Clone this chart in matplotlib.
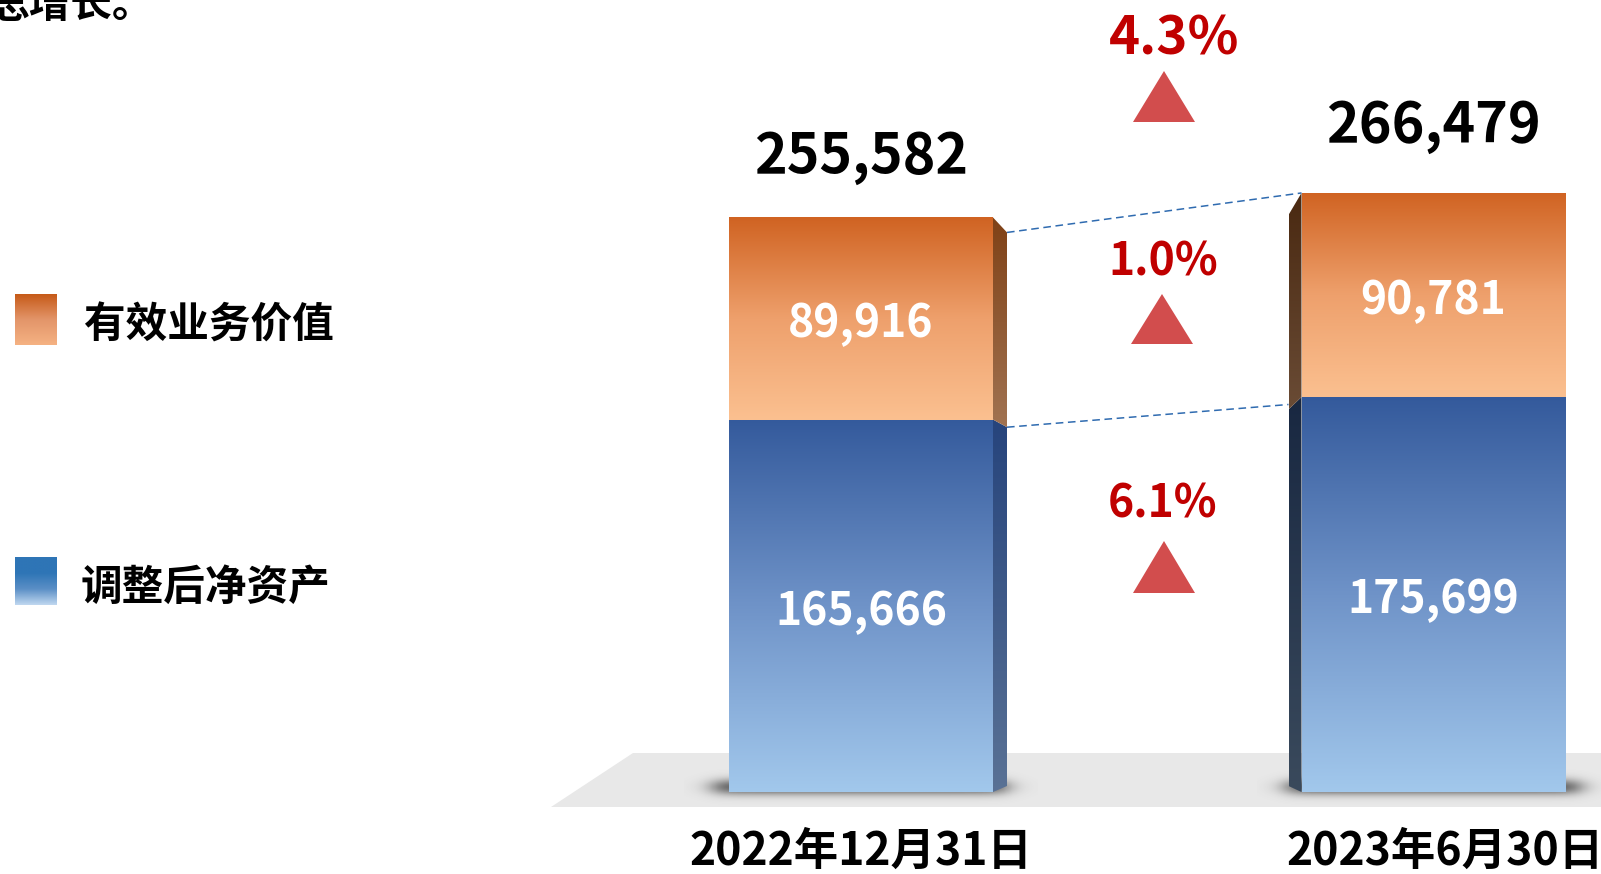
import numpy as np
import matplotlib.pyplot as plt
from matplotlib.patches import Polygon
from matplotlib.colors import LinearSegmentedColormap

plt.rcParams['font.family'] = ['Noto Sans CJK SC', 'DejaVu Sans']

# ---- data ----
dates = ['2022年12月31日', '2023年6月30日']
net_assets = [165666, 175699]       # 调整后净资产
inforce_value = [89916, 90781]      # 有效业务价值
totals = [255582, 266479]
series_names = ['有效业务价值', '调整后净资产']
growth_total = '4.3%'
growth_inforce = '1.0%'
growth_net = '6.1%'
top_text = '总增长。'

W, H = 1601, 874
fig = plt.figure(figsize=(W / 100, H / 100), dpi=100)

# pixel axes for the decoration (floor, legend, arrows)
axp = fig.add_axes([0, 0, 1, 1])
axp.axis('off')

# data axes for the bars
axd = fig.add_axes([0, 0, 1, 1])
axd.axis('off')
x_px, y_px = 572.5, 0.002248   # pixels per data unit
x_c0, y_base = 861, 792         # pixel spot of bar 0 centre / zero line
t_dy = 6                        # CJK font sits high with va=center


def py(v):
    # pixel height -> data units
    return v / y_px


def vgrad(ax, clip, extent, colors, z):
    cmap = LinearSegmentedColormap.from_list('g', colors)
    g = np.linspace(0, 1, 256).reshape(-1, 1)
    im = ax.imshow(g, cmap=cmap, extent=extent, origin='lower',
                   aspect='auto', zorder=z, interpolation='bilinear')
    im.set_clip_path(clip)
    return im


# floor
floor = Polygon([(633, 753), (W, 753), (W, 807), (551, 807)],
                closed=True, fc='#e8e8e8', ec='none', zorder=0)
axp.add_patch(floor)

x = np.arange(len(dates))
bw = 264 / x_px
b_net = axd.bar(x, net_assets, bw, color='none', zorder=3)
b_inf = axd.bar(x, inforce_value, bw, bottom=net_assets, color='none', zorder=3)

# shadows under the bars
for p in b_net.patches:
    x0, w = p.get_x(), p.get_width()
    ext = [x0 - 45 / x_px, x0 + w + 45 / x_px, py(-14), py(34)]
    nx, ny = 300, 60
    xs = np.linspace(ext[0], ext[1], nx)
    ys = np.linspace(ext[2], ext[3], ny)
    fx = 1 / (1 + np.exp(-(xs - (x0 - 16 / x_px)) / (7 / x_px))) * \
        1 / (1 + np.exp((xs - (x0 + w + 14 / x_px)) / (7 / x_px)))
    fy = np.exp(-((ys - py(5)) / py(8)) ** 2)
    a = np.outer(fy, fx) * 0.85
    rgba = np.zeros((ny, nx, 4))
    rgba[..., :3] = 0.28
    rgba[..., 3] = a
    axd.imshow(rgba, extent=ext, origin='lower', aspect='auto', zorder=2)

# front faces with gradients
orange = ['#fbc090', '#eea06c', '#d06322']
blue = ['#a2c8ec', '#6f93c8', '#345a9c']
for p in b_net.patches:
    vgrad(axd, p, [p.get_x(), p.get_x() + p.get_width(), p.get_y(),
                   p.get_y() + p.get_height()], blue, 3)
for p in b_inf.patches:
    vgrad(axd, p, [p.get_x(), p.get_x() + p.get_width(), p.get_y(),
                   p.get_y() + p.get_height()], orange, 3)

# side faces (bar 0 right, bar 1 left)
side_cfg = [(+1, 14, 6, -15), (-1, 13, 6, -22)]
side_cols = [
    (['#5d7597', '#22407a'], ['#a67a5a', '#7a3a0e']),
    (['#3c4c5e', '#16253f'], ['#6e503a', '#45240c']),
]
corner = []
for i in range(len(dates)):
    sgn, dxp, off_b, off_t = side_cfg[i]
    p = b_net.patches[i]
    xe = p.get_x() + (p.get_width() if sgn > 0 else 0)
    xo = xe + sgn * dxp / x_px
    tot = totals[i]

    def off(y, off_b=off_b, off_t=off_t, tot=tot):
        return py(off_b + (off_t - off_b) * y / tot)

    segs = [(0, net_assets[i]), (net_assets[i], tot)]
    for (ya, yb), cols in zip(segs, side_cols[i]):
        poly = Polygon([(xe, ya), (xe, yb), (xo, yb + off(yb)), (xo, ya + off(ya))],
                       closed=True, fc='none', ec='none')
        axd.add_patch(poly)
        vgrad(axd, poly, [min(xe, xo), max(xe, xo), ya + off(ya) - py(30),
                          yb + py(30)], cols, 3)
    corner.append((xe, xo, off))

# dashed connectors
xe0, xo0, off0 = corner[0]
xe1, xo1, off1 = corner[1]
axd.plot([xo0, xe1], [totals[0] + off0(totals[0]), totals[1]],
         ls=(0, (5, 3)), color='#2f6bb0', lw=1.1, zorder=4)
axd.plot([xo0, xo1], [net_assets[0] + off0(net_assets[0]),
                      net_assets[1] + off1(net_assets[1]) + py(5)],
         ls=(0, (5, 3)), color='#2f6bb0', lw=1.1, zorder=4)

# value labels
tot_gap = [66, 73]
date_dx = [0, 12]
for i in range(len(dates)):
    axd.text(x[i], totals[i] + py(tot_gap[i] - t_dy), f'{totals[i]:,}', ha='center',
             va='center', fontsize=40, weight='bold', color='black', zorder=5)
    axd.text(x[i], net_assets[i] + inforce_value[i] / 2 - py(t_dy), f'{inforce_value[i]:,}',
             ha='center', va='center', fontsize=32, weight='bold', color='white', zorder=5)
    axd.text(x[i], net_assets[i] / 2 - py(t_dy), f'{net_assets[i]:,}',
             ha='center', va='center', fontsize=32, weight='bold', color='white', zorder=5)
    axd.text(x[i] + date_dx[i] / x_px, py(y_base - 850 - t_dy + 4), dates[i],
             ha='center', va='center', fontsize=32, weight='bold', color='black', zorder=5)

axd.set_xlim(-x_c0 / x_px, (W - x_c0) / x_px)
axd.set_ylim(py(y_base - H), py(y_base))

# growth markers
red_t = '#c00000'
red_tri = '#d24d4d'
for txt, tx, ty, fs, (tl, tr, tt, tb) in [
        (growth_total, 1174, 33, 38, (1133, 1195, 71, 122)),
        (growth_inforce, 1163, 257, 32, (1131, 1193, 294, 344)),
        (growth_net, 1163, 499, 32, (1133, 1195, 541, 593))]:
    axp.text(tx, ty + t_dy, txt, ha='center', va='center', fontsize=fs,
             weight='bold', color=red_t)
    axp.add_patch(Polygon([(tl, tb), ((tl + tr) / 2, tt), (tr, tb)],
                          closed=True, fc=red_tri, ec='none'))

# legend
leg_cols = [['#f5b283', '#e3956a', '#c65a18'], ['#c0d8f0', '#5b8fc6', '#2e75b6', '#2e75b6']]
leg_box = [(15, 57, 294, 345), (15, 57, 557, 605)]
leg_txt = [(84, 320), (81, 582)]
for name, cols, (l, r, t, b), (lx, ly) in zip(series_names, leg_cols, leg_box, leg_txt):
    sq = Polygon([(l, t), (r, t), (r, b), (l, b)], closed=True, fc='none', ec='none')
    axp.add_patch(sq)
    vgrad(axp, sq, [l, r, b, t], cols, 2)
    axp.text(lx, ly + t_dy, name, ha='left', va='center', fontsize=30,
             weight='bold', color='black')

# cut-off sentence at the top
axp.text(-12, 17, top_text, ha='left', va='baseline', fontsize=30,
         weight='heavy', color='black')

axp.set_xlim(0, W)
axp.set_ylim(H, 0)

fig.savefig('out.png', dpi=100, facecolor='white')
